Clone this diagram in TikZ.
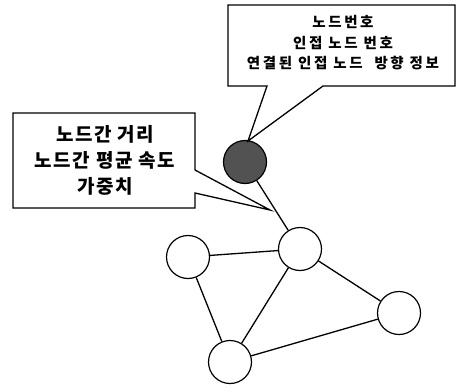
\documentclass[tikz,border=0pt]{standalone}
\usepackage{fontspec}
\newfontfamily\krl[LetterSpace=8]{Noto Sans CJK KR}
\newfontfamily\krs[LetterSpace=18]{Noto Sans CJK KR}
\begin{document}
\begin{tikzpicture}[x=1pt,y=-1pt,line width=1.3pt]
\useasboundingbox (0,0) rectangle (457,388);
\tikzset{
  vertex/.style={circle,draw,line width=1.2pt,minimum size=43pt,inner sep=0pt,fill=white},
  box/.style={draw,line width=1.3pt,line join=miter,fill=white},
  edge/.style={line width=1.3pt}
}
\node[vertex,fill=black!68] (s) at (245,162) {};
\node[vertex] (a) at (188,257) {};
\node[vertex] (b) at (300,249) {};
\node[vertex] (c) at (399,313) {};
\node[vertex] (d) at (230,362) {};
\draw[edge] (s)--(b) (a)--(b) (a)--(d) (b)--(d) (b)--(c) (c)--(d);
\coordinate (tip1) at (248,141);
\coordinate (tip2) at (270,210);
\draw[box] (228,5) -- (455,5) -- (455,86) -- (323,86) -- (tip1) -- (267,86) -- (228,86) -- cycle;
\draw[box] (13,113) -- (195,113) -- (195,170) -- (tip2) -- (195,193) -- (195,208) -- (13,208) -- cycle;
\node[align=center,font={\krs\bfseries\fontsize{14.5}{20.5}\selectfont},inner sep=0pt] (t1) at (343,43) {노드번호\\인접 노드 번호\\연결된 인접 노드~ 방향 정보};
\node[align=center,font={\krl\bfseries\fontsize{19}{26}\selectfont},inner sep=0pt] (t2) at (105,160) {노드간 거리\\노드간 평균 속도\\가중치};
\end{tikzpicture}
\end{document}
